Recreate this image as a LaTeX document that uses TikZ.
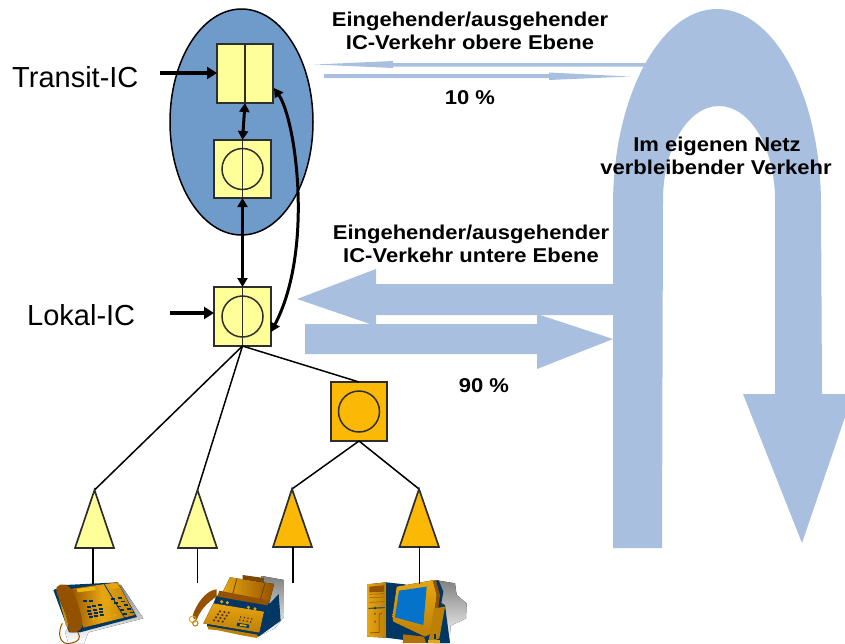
\documentclass[tikz,border=0pt]{standalone}
\usepackage{fontspec}
\setmainfont{Liberation Sans}
\newfontfamily\headfamily[FakeStretch=1.1]{Liberation Sans}
\usetikzlibrary{arrows.meta,shapes.geometric}
\definecolor{flow}{HTML}{A9BFDF}
\definecolor{oval}{HTML}{6F9BCB}
\definecolor{pale}{HTML}{FFFF99}
\definecolor{amber}{HTML}{FBB805}
\definecolor{edge}{HTML}{2E2E2E}
\definecolor{gold}{HTML}{BD7F06}
\definecolor{goldlight}{HTML}{E6A612}
\definecolor{brown}{HTML}{945200}
\definecolor{navy}{HTML}{003764}
\definecolor{shade}{HTML}{BEBEBE}
\definecolor{screenblue}{HTML}{0573C9}
\tikzset{
  x=1pt,y=-1pt,
  swbox/.style={draw=edge,line width=2pt,minimum width=56pt,minimum height=58pt,inner sep=0pt,outer sep=0pt},
  ring/.style={draw=edge,line width=1.5pt,circle,minimum size=41pt,inner sep=0pt,outer sep=0pt},
  tri/.style={draw=edge,line width=1.7pt,line join=miter},
  link/.style={draw=black,line width=1.5pt},
  stem/.style={draw=black,line width=1.7pt},
  both/.style={draw=black,line width=3pt,{Triangle[length=9pt,width=10pt]}-{Triangle[length=9pt,width=10pt]}},
  feed/.style={draw=black,line width=3.8pt,-{Triangle[length=10pt,width=12pt]}},
  head/.style={font=\headfamily\bfseries\fontsize{20}{20}\selectfont,inner sep=0pt,anchor=base},
  plain/.style={font=\fontsize{29}{29}\selectfont,inner sep=0pt,anchor=base west},
}
\begin{document}
\begin{tikzpicture}
\useasboundingbox (0,0) rectangle (845,643);
% --- traffic flows
\fill[flow] (613,548) -- (613,205) .. controls (613,97) and (660,9) .. (717,9)
  .. controls (775,9) and (821,97) .. (821,205) -- (822,394) -- (845,394) -- (845,417)
  -- (802,543) -- (743,394) -- (775,394) -- (775,200)
  .. controls (775,148) and (750,106) .. (719,106)
  .. controls (688,106) and (663,148) .. (663,200) -- (662,548) -- cycle;
\fill[flow] (297,299) -- (376,269) -- (376,284) -- (613,284) -- (613,315) -- (376,315) -- (376,326) -- cycle;
\fill[flow] (305,324) -- (537,324) -- (537,314) -- (613,339) -- (537,369) -- (537,354) -- (305,354) -- cycle;
\fill[flow] (315,64.5) -- (393,61) -- (393,63) -- (645,63) -- (645,66.7) -- (393,66.7) -- (393,68) -- cycle;
\fill[flow] (324,74) -- (549,74) -- (549,72.5) -- (630,76.5) -- (549,80) -- (549,78) -- (324,78) -- cycle;
% --- oval
\node[draw=black,line width=1.5pt,fill=oval,ellipse,minimum width=143pt,minimum height=226pt,inner sep=0pt] (transit) at (241.5,122) {};
% --- switches
\node[swbox,fill=pale,minimum height=59pt] (tb) at (245,73.5) {};
\node[swbox,fill=pale,minimum width=57pt] (sb) at (242.5,169) {};
\node[swbox,fill=pale,minimum width=57pt,minimum height=59pt] (lb) at (242.5,316.5) {};
\node[swbox,fill=amber,minimum width=56pt,minimum height=59pt] (ob) at (359,411.5) {};
\node[ring] (sc) at (sb.center) {};
\node[ring] (lc) at (lb.center) {};
\node[ring] (oc) at (ob.center) {};
\draw[edge,line width=1.5pt] (tb.north) -- (tb.south);
\draw[edge,line width=1.5pt] (sb.north) -- (sb.south);
\draw[edge,line width=1.5pt] (lb.north) -- (lb.south);
% --- concentrators
\coordinate (a1) at (94.5,490);
\coordinate (a2) at (197.5,490);
\coordinate (a3) at (292,489);
\coordinate (a4) at (419,489);
\coordinate (b1) at (93,548);
\coordinate (b2) at (197.5,548);
\coordinate (b3) at (293,547);
\coordinate (b4) at (419.5,547);
\draw[link] (lb.south) -- (a1);
\draw[link] (lb.south) -- (a2);
\draw[link] (lb.south) -- (ob.north);
\draw[link] (ob.south) -- (a3);
\draw[link] (ob.south) -- (a4);
\draw[tri,fill=pale] (a1) -- (75,548) -- (114,548) -- cycle;
\draw[tri,fill=pale] (a2) -- (178,548) -- (217,548) -- cycle;
\draw[tri,fill=amber] (a3) -- (273,547) -- (312,547) -- cycle;
\draw[tri,fill=amber] (a4) -- (399.5,547) -- (439,547) -- cycle;
% --- telephone
\begin{scope}[shift={(45,575)},x=0.3333pt,y=-0.3333pt]
\clip (0,-10) rectangle (315,204);
\fill[shade] (190,25) -- (228,30) -- (295,130) -- (130,172) -- (118,204) -- (70,204) -- (60,170) -- cycle;
\fill[navy] (25,45) -- (60,30) -- (218,22) -- (276,126) -- (105,172) -- (72,172) -- cycle;
\fill[left color=brown,right color=gold,middle color=goldlight] (72,42) -- (180,27) -- (218,22) -- (270,120) -- (115,158) -- cycle;
\draw[navy,line width=0.8pt] (178,28) -- (240,130);
\fill[goldlight!80!yellow] (95,41) -- (150,35) -- (152,45) -- (98,52) -- cycle;
\fill[goldlight] (192,28) -- (215,26) -- (222,38) -- (198,42) -- cycle;
\fill[goldlight] (172,72) -- (190,68) -- (200,92) -- (182,96) -- cycle;
\foreach \r in {0,1,2,3}{\foreach \c in {0,1,2}{
  \fill[navy!85!black] ({125+\c*17+\r*2},{94+\r*10-\c*3}) rectangle ++(12,6);}}
\foreach \c in {0,1}{\fill[navy!85!black] ({115+\c*16},{76-\c*2}) rectangle ++(12,6);}
\foreach \r in {0,1,2,3,4}{\fill[navy!85!black] ({198+\r*9},{70+\r*11}) rectangle ++(12,5);
  \fill[navy!85!black] ({218+\r*9},{66+\r*11}) rectangle ++(12,5);}
\foreach \c in {0,1,2,3,4}{\fill[goldlight] ({145+\c*16},{132-\c*3}) circle (5);}
\fill[brown] (35,36) .. controls (48,22) and (70,26) .. (84,50) .. controls (100,85) and (112,125) .. (112,150)
  .. controls (108,172) and (82,178) .. (70,168) .. controls (75,150) and (60,110) .. (50,85)
  .. controls (42,70) and (30,50) .. (35,36) -- cycle;
\fill[goldlight!70!brown] (48,85) .. controls (60,110) and (70,140) .. (70,160) -- (62,150) .. controls (58,125) and (50,105) .. (42,70) -- cycle;
\draw[brown,line width=1pt] (52,145) .. controls (35,175) and (45,215) .. (80,204) .. controls (100,200) and (110,190) .. (98,172);
\end{scope}
% --- fax
\begin{scope}[shift={(180,570)},x=0.3333pt,y=-0.3333pt]
\clip (0,0) rectangle (315,219);
\fill[shade] (245,18) -- (312,30) -- (312,140) -- (285,175) -- (240,196) -- (200,150) -- cycle;
\fill[brown!85!black] (188,15) -- (252,24) -- (252,40) -- (188,30) -- cycle;
\fill[left color=goldlight,right color=brown] (150,22) -- (282,42) -- (268,98) -- (128,66) -- cycle;
\draw[brown!70!black,line width=0.7pt] (170,28) -- (158,72);
\draw[brown!70!black,line width=0.7pt] (255,40) -- (240,92);
\fill[navy] (110,76) -- (270,100) -- (296,72) -- (302,152) -- (236,200) -- (82,170) -- (80,150) -- cycle;
\fill[brown] (118,62) -- (270,92) -- (262,106) -- (112,80) -- cycle;
\fill[bottom color=gold,top color=goldlight] (100,100) -- (252,125) -- (238,188) -- (70,160) -- cycle;
\fill[gold] (84,168) -- (232,194) -- (232,204) -- (190,197) -- (110,180) -- (84,178) -- cycle;
\foreach \x/\y in {125/95,142/98,205/112,225/116}{\fill[goldlight] (\x,\y) circle (5);}
\foreach \r in {0,1,2,3}{\foreach \c in {0,1,2}{
  \fill[brown!60!black] ({120-\r*6+\c*13},{124+\r*9+\c*2}) circle (3.6);}}
\foreach \r in {0,1}{\foreach \c in {0,1,2,3}{
  \fill[brown!60!black] ({182-\r*3+\c*11},{141+\r*9+\c*2}) circle (2.6);}}
\fill[navy] (172,158) -- (208,164) -- (206,174) -- (170,168) -- cycle;
\fill[goldlight] (180,162) -- (200,165) -- (199,170) -- (179,167) -- cycle;
\fill[brown] (110,58) .. controls (85,60) and (60,85) .. (42,125) .. controls (36,140) and (38,148) .. (50,150)
  .. controls (60,120) and (85,95) .. (110,80) -- cycle;
\draw[goldlight,line width=1pt] (38,148) circle (10);
\draw[gold,line width=1pt] (46,160) circle (8);
\end{scope}
% --- computer
\begin{scope}[shift={(360,575)},x=0.3333pt,y=-0.3333pt]
\clip (0,-10) rectangle (330,204);
\fill[shade] (225,15) -- (285,25) -- (290,60) -- (320,85) -- (318,130) -- (272,152) -- (268,204) -- (220,204) -- cycle;
\fill[navy] (78,22) -- (135,28) -- (255,90) -- (270,204) -- (200,204) -- (78,188) -- cycle;
\fill[left color=goldlight,right color=gold] (22,28) -- (78,22) -- (78,188) -- (22,185) -- cycle;
\fill[brown] (28,35) -- (72,31) -- (72,50) -- (28,52) -- cycle;
\foreach \y in {58,68,82}{\draw[brown,line width=0.5pt] (28,\y) -- (72,\y-2);}
\draw[navy,line width=0.9pt] (26,100) -- (74,98);
\fill[navy] (46,99) circle (4);
\draw[brown,line width=0.8pt] (66,115) -- (58,117) -- (58,172) -- (30,174);
\fill[brown] (45,116) circle (3.5);
\fill[brown] (45,140) circle (3.5);
\fill[gold!70!brown] (130,178) -- (192,185) -- (198,204) -- (128,204) -- cycle;
\fill[navy] (215,18) -- (236,16) -- (250,50) -- (240,110) -- (215,110) -- cycle;
\fill[brown] (215,17) -- (228,16) -- (240,60) -- (232,120) -- (222,120) -- cycle;
\fill[bottom color=gold,top color=goldlight] (110,35) -- (218,16) -- (230,60) -- (215,175) -- (195,185) -- (100,140) -- (97,125) -- cycle;
\fill[screenblue] (117,47) -- (200,35) -- (190,150) -- (105,127) -- cycle;
\fill[gold] (222,100) -- (255,95) -- (238,190) -- (205,204) -- cycle;
\fill[goldlight] (205,196) rectangle (240,204);
\fill[navy] (222,176) rectangle (228,192);
\end{scope}
% --- arrows
\draw[both] (tb.south) -- (sb.north);
\draw[both] (sb.south) -- (lb.north);
\coordinate (r1) at (274,88);
\coordinate (r2) at (271,332);
\draw[both] (r1) .. controls (296,120) and (314,250) .. (r2);
\coordinate (f1) at (160,73);
\coordinate (f2) at (170,313);
\draw[feed] (f1) -- (tb.west |- f1);
\draw[feed,line width=3.2pt] (f2) -- (lb.west |- f2);
% --- stems
\coordinate (e1) at (93,584);
\coordinate (e2) at (197.5,583);
\coordinate (e3) at (293,583);
\coordinate (e4) at (419.5,584);
\draw[stem] (b1) -- (e1);
\draw[stem] (b2) -- (e2);
\draw[stem] (b3) -- (e3);
\draw[stem] (b4) -- (e4);
% --- labels
\node[plain] (t1) at (12,87.7) {Transit-IC};
\node[plain] (t2) at (27,325) {Lokal-IC};
\node[head] (t3) at (470,26) {Eingehender/ausgehender};
\node[head] (t4) at (470,49) {IC-Verkehr obere Ebene};
\node[head] (t5) at (470,104) {10 \%};
\node[head] (t6) at (717,151) {Im eigenen Netz};
\node[head] (t7) at (716,174) {verbleibender Verkehr};
\node[head] (t8) at (471,239) {Eingehender/ausgehender};
\node[head] (t9) at (471,262) {IC-Verkehr untere Ebene};
\node[head] (t10) at (484,392) {90 \%};
\end{tikzpicture}
\end{document}
